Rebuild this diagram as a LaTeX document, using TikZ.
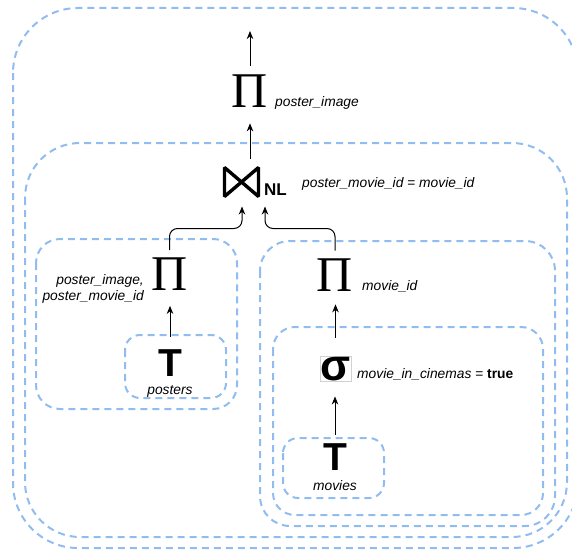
\documentclass[tikz,border=0pt]{standalone}
\usepackage[no-math]{fontspec}
\setmainfont{Liberation Sans}
\newfontfamily\projfont{Liberation Serif}
\usetikzlibrary{arrows.meta,calc}
\definecolor{grpblue}{RGB}{145,188,240}
\begin{document}
\begin{tikzpicture}[x=1pt,y=-1pt,
  grp/.style={draw=grpblue, line width=2pt, dash pattern=on 7pt off 5pt, rounded corners=#1},
  pisym/.style={inner sep=0pt, outer sep=0pt, font=\projfont\fontsize{50}{50}\selectfont},
  tsym/.style={inner sep=0pt, outer sep=0pt, font=\fontsize{39}{39}\selectfont\bfseries},
  sigsym/.style={inner sep=0.6pt, outer sep=0pt, draw=black!18, line width=0.5pt,
                 font=\fontsize{44}{44}\selectfont\bfseries},
  joinsym/.style={inner sep=0pt, outer sep=0pt, minimum width=34pt, minimum height=29pt},
  bowtie/.style={line width=3.4pt, line join=bevel},
  lbl/.style={inner sep=0pt, font=\fontsize{13.8}{16}\selectfont\itshape},
  nlsym/.style={inner sep=0pt, font=\fontsize{17}{17}\selectfont\bfseries},
  arr/.style={draw=black, line width=1pt, -{Stealth[length=8pt,width=6.5pt,inset=2.5pt]}}]
\useasboundingbox (0,0) rectangle (572,551);

% nested group frames
\draw[grp=65] (13,8) rectangle (578,548);
\draw[grp=55] (25,143) rectangle (567,537);
\draw[grp=24] (36,239) rectangle (237,409);
\draw[grp=15] (125,335) rectangle (226,398);
\draw[grp=30] (260,241) rectangle (555,526);
\draw[grp=22] (273,327) rectangle (543,515);
\draw[grp=15] (283,438) rectangle (384,498);

% top projection
\node[pisym] (toppi) at (250,91) {Π};
\node[lbl, anchor=base west] (toplbl) at (275,106) {poster\_image};
\coordinate (out) at (250,31);

% nested-loop join
\node[joinsym] (join) at (241.5,182) {};
\draw[bowtie] (join.north west) -- (join.south east) -- (join.north east) -- (join.south west) -- cycle;
\node[nlsym, anchor=base west] (nl) at (264,195) {NL};
\node[lbl, anchor=base west] (cond) at (302,187) {poster\_movie\_id {\upshape=} movie\_id};

% left branch
\node[pisym] (lpi) at (169.5,274.5) {Π};
\node[lbl, anchor=east, align=right] (lpilbl) at (144,289) {poster\_image,\\poster\_movie\_id};
\node[tsym] (tpos) at (170,363) {T};
\node[lbl, anchor=base] (tposlbl) at (170,394) {posters};

% right branch
\node[pisym] (rpi) at (335,275) {Π};
\node[lbl, anchor=base west] (rpilbl) at (362,290) {movie\_id};
\node[sigsym] (sigma) at (335.5,369) {σ};
\node[lbl, anchor=base west] (siglbl) at (357,378) {movie\_in\_cinemas {\upshape=} {\upshape\bfseries true}};
\node[tsym] (tmov) at (335,457) {T};
\node[lbl, anchor=base] (tmovlbl) at (335,490) {movies};

% data flow
\draw[arr, shorten <=9pt] (toppi.north) -- (out);
\draw[arr, shorten <=9pt, shorten >=16pt] (join.north -| toppi.south) -- (toppi.south);
\draw[arr, rounded corners=8pt] ($(lpi.north)+(0,-8)$) |- ($(join.south)+(0.5,32)$) -- ($(join.south)+(0.5,10)$);
\draw[arr, rounded corners=8pt] ($(rpi.north)+(0,-8)$) |- ($(join.south)+(23.5,32)$) -- ($(join.south)+(23.5,10)$);
\draw[arr, shorten <=13pt, shorten >=15pt] (tpos.north) -- (tpos.north |- lpi.south);
\draw[arr, shorten <=19pt, shorten >=13pt] (sigma.north) -- (sigma.north |- rpi.south);
\draw[arr, shorten <=9pt, shorten >=15pt] (tmov.north) -- (tmov.north |- sigma.south);
\end{tikzpicture}
\end{document}
